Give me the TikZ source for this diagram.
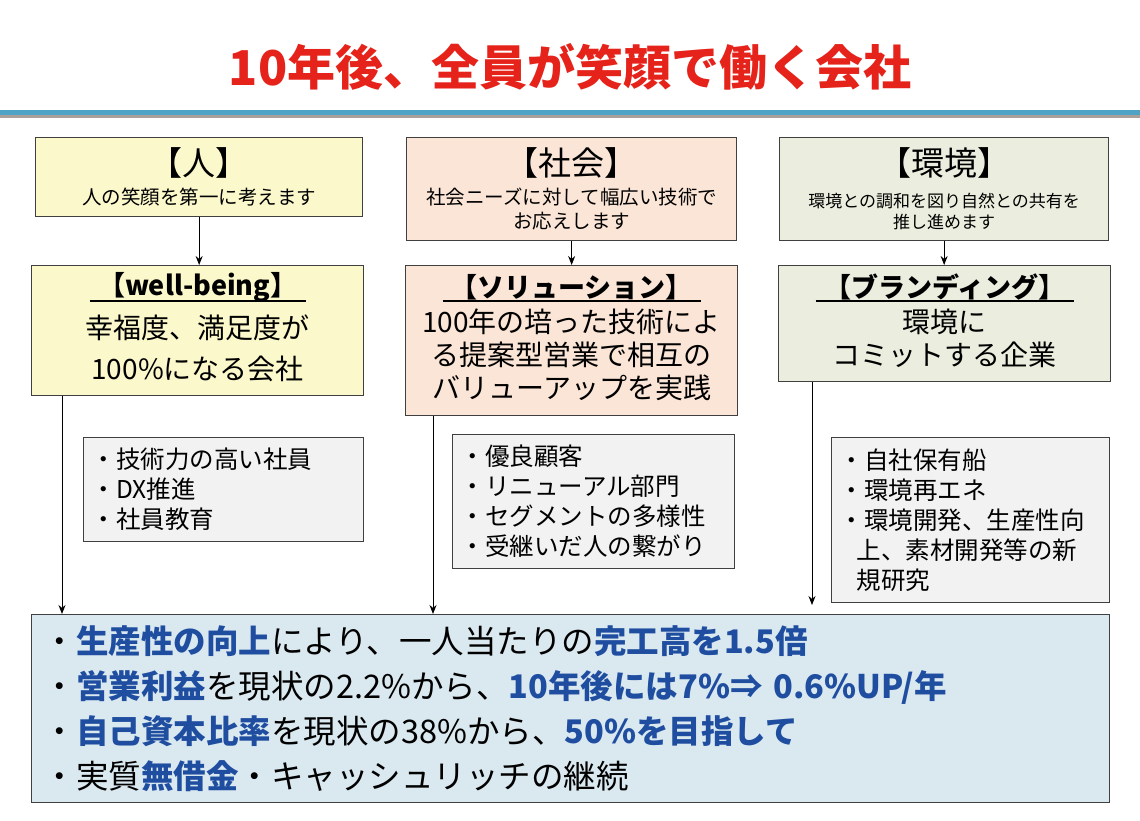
\documentclass[tikz,border=0pt]{standalone}
\usepackage{fontspec}
\setmainfont{Noto Sans CJK JP}
\usetikzlibrary{positioning, calc, arrows.meta}

\definecolor{titlered}{HTML}{E5231B}
\definecolor{rulebl}{HTML}{4FA3C5}
\definecolor{rulesh}{HTML}{A8A099}
\definecolor{yelfill}{HTML}{FBF8CB}
\definecolor{pchfill}{HTML}{FBE5D6}
\definecolor{olvfill}{HTML}{EBEEDE}
\definecolor{lstfill}{HTML}{F2F2F2}
\definecolor{resfill}{HTML}{DAE8F0}
\definecolor{edge}{HTML}{404040}
\definecolor{keyblue}{HTML}{1F4EA0}

\newcommand{\kw}[1]{\textbf{\color{keyblue}#1}}

\begin{document}
\begin{tikzpicture}[x=1pt, y=-1pt,
  box/.style={draw=edge, line width=1.3pt, anchor=north west, inner sep=0pt},
  topbox/.style={box, align=center, font=\fontsize{19.5}{24}\selectfont},
  lstbox/.style={box, fill=lstfill, inner xsep=8pt, align=left,
    font=\fontsize{24.5}{30}\selectfont},
  headtxt/.style={font=\fontsize{27}{30}\selectfont\bfseries, inner sep=0pt},
  bodytxt/.style={align=center, inner sep=0pt},
  uline/.style={line width=1.6pt},
  arr/.style={-{Stealth[length=9pt, width=7pt]}, line width=1pt}
]
\useasboundingbox (0,0) rectangle (1140,820);
\fill[white] (0,0) rectangle (1140,820);

% --- Title and rule ---
\node[font=\fontsize{48}{52}\selectfont\bfseries, text=titlered] (title) at (570,67)
  {10年後、全員が笑顔で働く会社};
\draw[line width=3.5pt, rulesh] (0,116.5) -- (1140,116.5);
\draw[line width=5.5pt, rulebl] (0,112.5) -- (1140,112.5);

% --- Top row ---
\node[topbox, fill=yelfill, minimum width=327pt, minimum height=79pt] (t1) at (35,137)
  {{\fontsize{33}{33}\selectfont 【人】}\\[5pt]人の笑顔を第一に考えます};
\node[topbox, fill=pchfill, minimum width=330pt, minimum height=103pt] (t2) at (406,137)
  {{\fontsize{33}{33}\selectfont 【社会】}\\[5pt]社会ニーズに対して幅広い技術で\\お応えします};
\node[topbox, fill=olvfill, minimum width=329pt, minimum height=103pt,
  font=\fontsize{17}{21}\selectfont] (t3) at (779,137)
  {{\fontsize{33}{33}\selectfont 【環境】}\\[11pt]環境との調和を図り自然との共有を\\推し進めます};

% --- Middle row ---
\node[box, fill=yelfill, minimum width=332pt, minimum height=130pt] (m1) at (31,265) {};
\node[box, fill=pchfill, minimum width=332pt, minimum height=150pt] (m2) at (405,265) {};
\node[box, fill=olvfill, minimum width=332pt, minimum height=116pt] (m3) at (778,265) {};

\node[headtxt] (m1h) at ([yshift=-22pt]m1.north) {【well-being】};
\node[headtxt] (m2h) at ([yshift=-22pt]m2.north) {【ソリューション】};
\node[headtxt] (m3h) at ([yshift=-22pt]m3.north) {【ブランディング】};
\draw[uline] ([xshift=-108pt, yshift=-14pt]m1h.center) -- ([xshift=108pt, yshift=-14pt]m1h.center);
\draw[uline] ([xshift=-129pt, yshift=-14pt]m2h.center) -- ([xshift=129pt, yshift=-14pt]m2h.center);
\draw[uline] ([xshift=-129pt, yshift=-14pt]m3h.center) -- ([xshift=129pt, yshift=-14pt]m3h.center);

\node[bodytxt, font=\fontsize{28}{41}\selectfont] (m1b) at ([yshift=-83pt]m1.north)
  {幸福度、満足度が\\100\%になる会社};
\node[bodytxt, font=\fontsize{28}{33}\selectfont] (m2b) at ([yshift=-90pt]m2.north)
  {100年の培った技術によ\\る提案型営業で相互の\\バリューアップを実践};
\node[bodytxt, font=\fontsize{28}{33}\selectfont] (m3b) at ([yshift=-73pt]m3.north)
  {環境に\\コミットする企業};

% --- Lists ---
\node[lstbox, text width=264pt, minimum height=104pt] (l1) at (83,437)
  {・技術力の高い社員\\・DX推進\\・社員教育};
\node[lstbox, text width=266pt, minimum height=134pt] (l2) at (452,434)
  {・優良顧客\\・リニューアル部門\\・セグメントの多様性\\・受継いだ人の繋がり};
\node[lstbox, text width=262pt, minimum height=165pt] (l3) at (831,437)
  {・自社保有船\\・環境再エネ\\・環境開発、生産性向\\\hspace*{0.7em}上、素材開発等の新\\\hspace*{0.7em}規研究};

% --- Result ---
\node[box, fill=resfill, inner xsep=12pt, text width=1054pt, minimum height=188pt,
  align=left, font=\fontsize{32.5}{45}\selectfont] (res) at (31,614)
  {・\kw{生産性の向上}により、一人当たりの\kw{完工高を1.5倍}\\
   ・\kw{営業利益}を現状の2.2\%から、\kw{10年後には7\%⇒ 0.6\%UP/年}\\
   ・\kw{自己資本比率}を現状の38\%から、\kw{50\%を目指して}\\
   ・実質\kw{無借金}・キャッシュリッチの継続};

% --- Connectors ---
\draw[arr] (t1.south) -- (t1.south |- m1.north);
\draw[arr] (t2.south) -- (t2.south |- m2.north);
\draw[arr] (t3.south) -- (t3.south |- m3.north);
\draw[arr] ([xshift=31pt]m1.south west) -- ([xshift=31pt]m1.south west |- res.north);
\draw[arr] ([xshift=28pt]m2.south west) -- ([xshift=28pt]m2.south west |- res.north);
\draw[arr, shorten >=9pt] ([xshift=34pt]m3.south west) -- ([xshift=34pt]m3.south west |- res.north);
\end{tikzpicture}
\end{document}
